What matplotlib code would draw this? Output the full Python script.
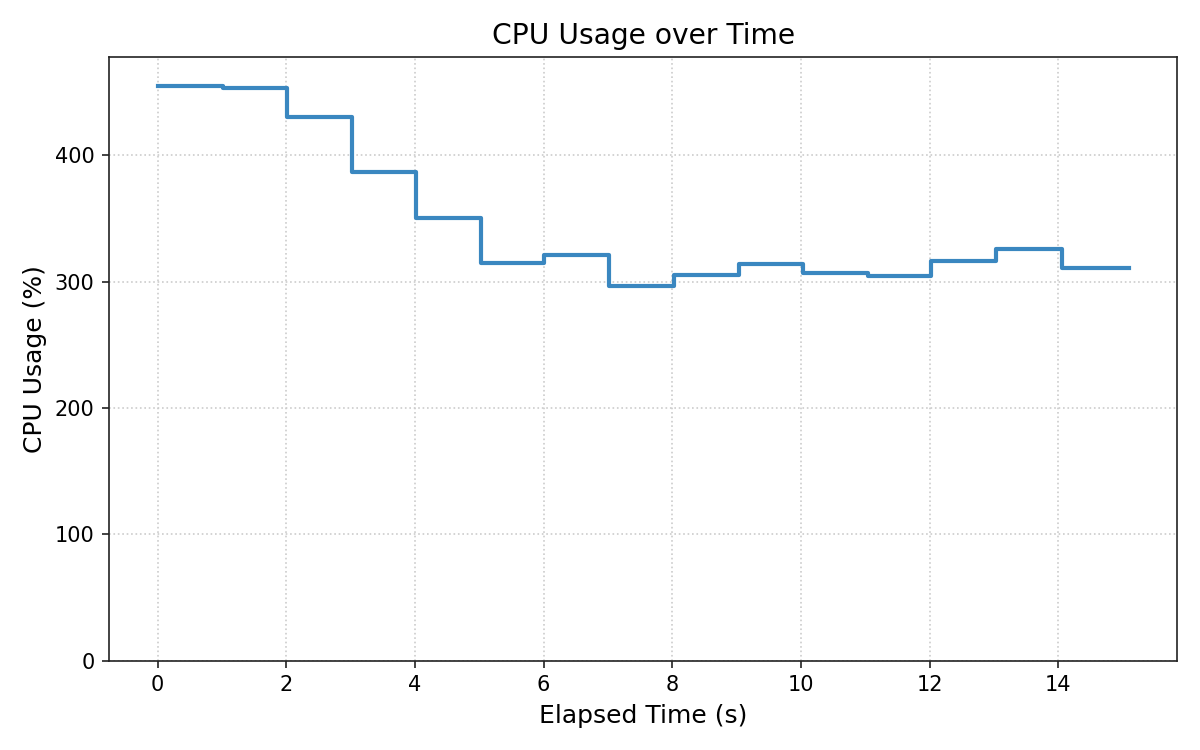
import matplotlib as mpl
mpl.use("Agg")
import matplotlib.pyplot as plt

# elapsed time of each sample (s) and CPU usage (%)
elapsed = [0.0, 1.016, 2.01, 3.02, 4.01, 5.02, 6.005, 7.02,
           8.02, 9.04, 10.04, 11.05, 12.03, 13.04, 14.06, 15.1]
cpu = [455, 453, 430, 386.5, 350, 315, 321, 296.6,
       305, 313.8, 306.7, 304.3, 316.4, 325.4, 311.1, 311.1]

dark = "#222222"
plt.rcParams['font.family'] = ['DejaVu Sans']

fig, ax = plt.subplots(figsize=(8, 5), dpi=150)
ax.step(elapsed, cpu, where='post', color="#3a87c0", linewidth=2)
ax.set_ylim(0, max(cpu) * 1.05)
ax.set_title("CPU Usage over Time", fontsize=13.5, color="black")
ax.set_xlabel("Elapsed Time (s)", fontsize=12, color="black")
ax.set_ylabel("CPU Usage (%)", fontsize=12, color="black")
ax.grid(True, linestyle=':', color="#cccccc", linewidth=0.8)
ax.tick_params(labelsize=10, colors=dark, labelcolor="black")
for s in ax.spines.values():
    s.set_color(dark)
fig.tight_layout()
fig.savefig("out.png")
